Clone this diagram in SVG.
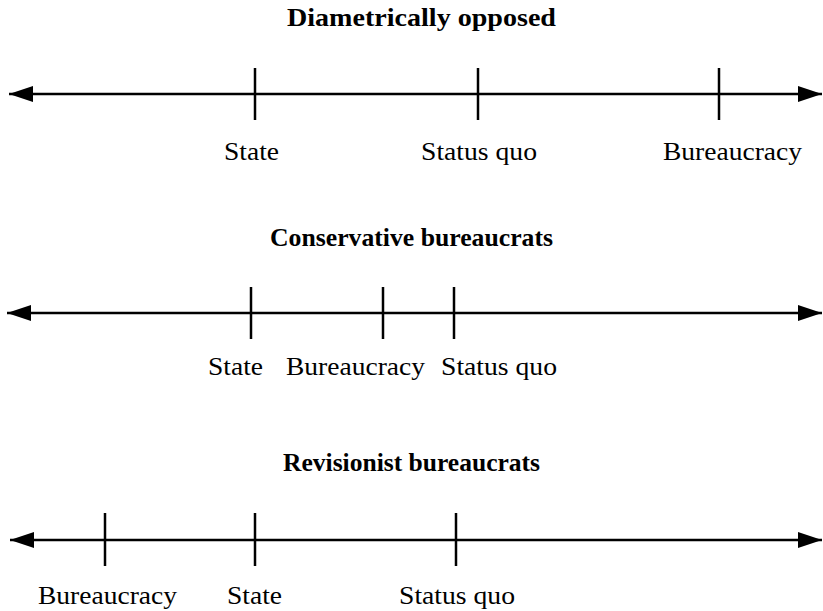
<svg xmlns="http://www.w3.org/2000/svg" width="823" height="611" viewBox="0 0 823 611">
<style>
.axis{stroke:#000;stroke-width:2.5;fill:none}
.tick{stroke:#000;stroke-width:2.5}
.lbl{font-family:"Liberation Serif","Times New Roman",serif;font-size:26px;fill:#000;text-anchor:start}
.ttl{font-family:"Liberation Serif","Times New Roman",serif;font-size:25px;font-weight:bold;fill:#000;text-anchor:start}
</style>
<defs>
<marker id="ah" markerUnits="userSpaceOnUse" markerWidth="26" markerHeight="16" viewBox="0 0 24 16" refX="24" refY="8" orient="auto-start-reverse">
<path d="M0,0 L24,8 L0,16 Z" fill="#000"/>
</marker>
</defs>
<rect width="823" height="611" fill="#fff"/>
<g id="connectors">
<line class="axis" x1="9" y1="94" x2="822" y2="94" marker-start="url(#ah)" marker-end="url(#ah)"/>
<line class="axis" x1="7" y1="313" x2="822" y2="313" marker-start="url(#ah)" marker-end="url(#ah)"/>
<line class="axis" x1="10" y1="540" x2="822" y2="540" marker-start="url(#ah)" marker-end="url(#ah)"/>
</g>
<g id="title1"><text class="ttl" x="287" y="26" textLength="269" lengthAdjust="spacingAndGlyphs">Diametrically opposed</text></g>
<g id="r1-state"><line class="tick" x1="255" y1="68" x2="255" y2="120"/><text class="lbl" x="224" y="160" textLength="55" lengthAdjust="spacingAndGlyphs">State</text></g>
<g id="r1-statusquo"><line class="tick" x1="478" y1="68" x2="478" y2="120"/><text class="lbl" x="421" y="160" textLength="116" lengthAdjust="spacingAndGlyphs">Status quo</text></g>
<g id="r1-bureaucracy"><line class="tick" x1="719" y1="68" x2="719" y2="120"/><text class="lbl" x="663" y="160" textLength="139" lengthAdjust="spacingAndGlyphs">Bureaucracy</text></g>

<g id="title2"><text class="ttl" x="270" y="246" textLength="283" lengthAdjust="spacingAndGlyphs">Conservative bureaucrats</text></g>
<g id="r2-state"><line class="tick" x1="251" y1="287" x2="251" y2="339"/><text class="lbl" x="208" y="375" textLength="55" lengthAdjust="spacingAndGlyphs">State</text></g>
<g id="r2-bureaucracy"><line class="tick" x1="383" y1="287" x2="383" y2="339"/><text class="lbl" x="286" y="375" textLength="139" lengthAdjust="spacingAndGlyphs">Bureaucracy</text></g>
<g id="r2-statusquo"><line class="tick" x1="454" y1="287" x2="454" y2="339"/><text class="lbl" x="441" y="375" textLength="116" lengthAdjust="spacingAndGlyphs">Status quo</text></g>

<g id="title3"><text class="ttl" x="283" y="471" textLength="257" lengthAdjust="spacingAndGlyphs">Revisionist bureaucrats</text></g>
<g id="r3-bureaucracy"><line class="tick" x1="105" y1="513" x2="105" y2="566"/><text class="lbl" x="38" y="604" textLength="139" lengthAdjust="spacingAndGlyphs">Bureaucracy</text></g>
<g id="r3-state"><line class="tick" x1="255" y1="513" x2="255" y2="566"/><text class="lbl" x="227" y="604" textLength="55" lengthAdjust="spacingAndGlyphs">State</text></g>
<g id="r3-statusquo"><line class="tick" x1="456" y1="513" x2="456" y2="566"/><text class="lbl" x="399" y="604" textLength="116" lengthAdjust="spacingAndGlyphs">Status quo</text></g>
</svg>
